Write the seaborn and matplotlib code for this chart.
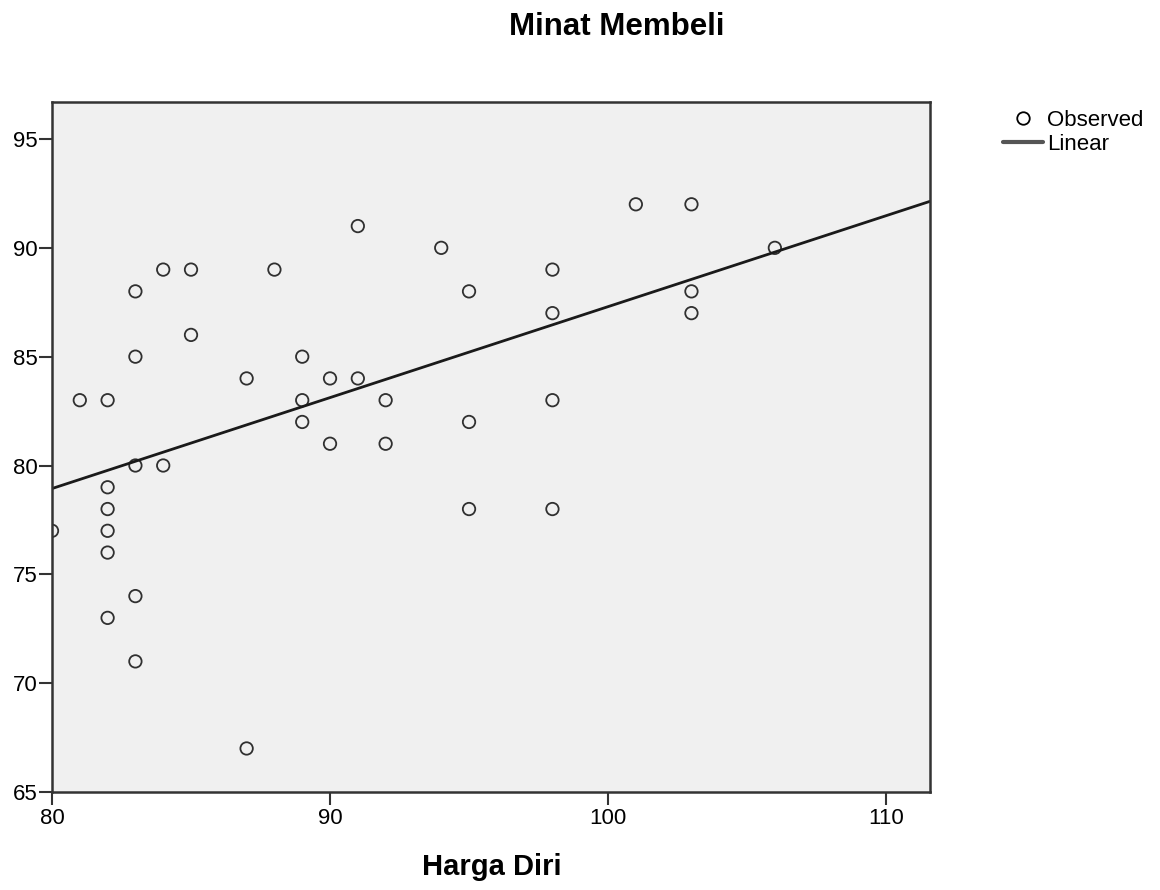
import pandas as pd
import matplotlib.pyplot as plt
import seaborn as sns
from matplotlib.lines import Line2D

# Harga Diri (x) vs Minat Membeli (y)
harga_diri = [80, 81, 82, 82, 82, 82, 82, 82, 83, 83, 83, 83, 83, 84, 84, 85, 85,
              87, 87, 88, 89, 89, 89, 90, 90, 91, 91, 92, 92, 94, 95, 95, 95,
              98, 98, 98, 98, 101, 103, 103, 103, 106]
minat_membeli = [77, 83, 83, 79, 78, 77, 76, 73, 88, 85, 80, 74, 71, 89, 80, 89, 86,
                 84, 67, 89, 85, 83, 82, 84, 81, 91, 84, 83, 81, 90, 88, 82, 78,
                 89, 87, 83, 78, 92, 92, 88, 87, 90]

x_ticks = [80, 90, 100, 110]
y_ticks = [65, 70, 75, 80, 85, 90, 95]


def main():
    df = pd.DataFrame({'harga_diri': harga_diri, 'minat_membeli': minat_membeli})

    sns.set_style("white")
    plt.rcParams['font.family'] = ['Liberation Sans', 'DejaVu Sans']
    plt.rcParams['text.color'] = 'black'
    plt.rcParams['xtick.color'] = 'black'
    plt.rcParams['ytick.color'] = 'black'

    fig = plt.figure(figsize=(11.6, 8.9), dpi=100)
    ax = fig.add_axes([52 / 1160, 1 - 792 / 890, (930 - 52) / 1160, (792 - 102) / 890])
    ax.set_facecolor('#f0f0f0')
    ax.set_xlim(80, 111.58)
    ax.set_ylim(65, 96.7)

    sns.regplot(
        data=df, x='harga_diri', y='minat_membeli', ax=ax, ci=None, truncate=False,
        scatter_kws={'facecolors': 'none', 'edgecolors': 'black', 'linewidths': 1.3, 's': 80},
        line_kws={'color': '#1a1a1a', 'linewidth': 2},
    )
    ax.set_xlim(80, 111.58)
    ax.set_ylim(65, 96.7)

    ax.set_xticks(x_ticks)
    ax.set_yticks(y_ticks)
    ax.tick_params(axis='both', direction='out', length=9.5, width=1.5, color='#333333',
                   labelsize=16, left=True, bottom=True)
    ax.tick_params(axis='y', pad=1)
    ax.tick_params(axis='x', pad=2)
    for sp in ax.spines.values():
        sp.set_color('#333333')
        sp.set_linewidth(1.8)

    ax.set_xlabel('')
    ax.set_ylabel('')
    fig.text(492 / 1160, 1 - 875 / 890, 'Harga Diri', ha='center', va='baseline',
             fontsize=21, fontweight='bold')
    fig.text(617 / 1160, 1 - 35 / 890, 'Minat Membeli', ha='center', va='baseline',
             fontsize=22.5, fontweight='bold')

    handles = [
        Line2D([], [], linestyle='none', marker='o', markerfacecolor='none',
               markeredgecolor='black', markersize=9, markeredgewidth=1.3),
        Line2D([], [], color='#555555', linewidth=3),
    ]
    fig.legend(handles, ['Observed', 'Linear'], loc='upper left',
               bbox_to_anchor=(1003 / 1160, 1 - 110 / 890), frameon=False,
               fontsize=16, handlelength=1.8, handletextpad=0.18,
               labelspacing=0.12, borderpad=0, borderaxespad=0)

    fig.savefig('out.png', dpi=100)
    plt.close(fig)


if __name__ == "__main__":
    main()
